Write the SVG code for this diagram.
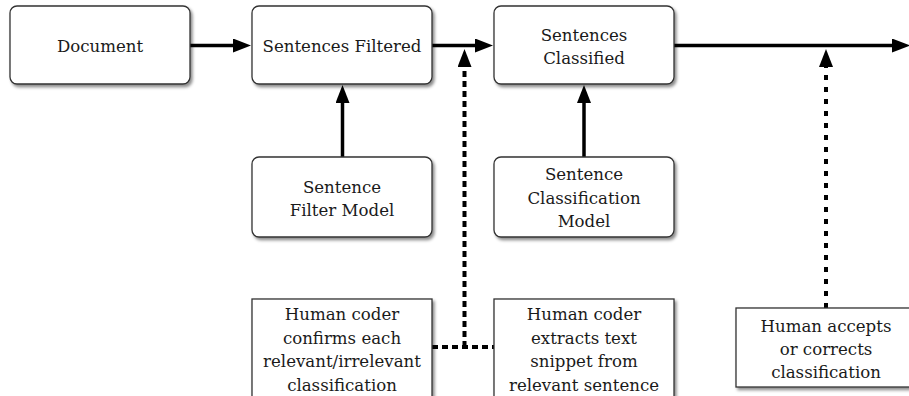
<svg xmlns="http://www.w3.org/2000/svg" width="909" height="396" viewBox="0 0 909 396">
<style>
.box{fill:#fff;stroke:#333;stroke-width:1.3;filter:url(#sh)}
.t{font-family:'DejaVu Serif','Liberation Serif',serif;font-size:16.6px;fill:#1a1a1a;text-anchor:middle}
.c{fill:none;stroke:#000;stroke-width:3.5}
.d1{stroke-width:4;stroke-dasharray:6 4}
.d2{stroke-width:4;stroke-dasharray:5 7}
</style>
<defs>
<filter id="sh" x="-10%" y="-10%" width="130%" height="130%">
<feDropShadow dx="2" dy="2.5" stdDeviation="1.5" flood-color="#000" flood-opacity="0.45"/>
</filter>
<marker id="ah" markerUnits="userSpaceOnUse" markerWidth="20" markerHeight="16" refX="1" refY="7" orient="auto">
<path d="M0,0 L18,7 L0,14 z" fill="#000"/>
</marker>
</defs>

<g id="connectors">
<path class="c" d="M190,45.5 H234" marker-end="url(#ah)"/>
<path class="c" d="M432,45.5 H476" marker-end="url(#ah)"/>
<path class="c" d="M674,45.5 H893" marker-end="url(#ah)"/>
<path class="c" d="M342.5,157 V102" marker-end="url(#ah)"/>
<path class="c" d="M584,157 V102" marker-end="url(#ah)"/>
<path class="c d1" d="M432,347 H494"/>
<path class="c d1" d="M464.5,347 V66" marker-end="url(#ah)"/>
<path class="c d2" d="M826,308 V66" marker-end="url(#ah)"/>
</g>

<g id="document">
<rect class="box" x="10" y="6" width="180" height="78" rx="7"/>
<text class="t" x="100" y="52">Document</text>
</g>
<g id="sentences-filtered">
<rect class="box" x="252" y="6" width="180" height="78" rx="7"/>
<text class="t" x="342" y="52">Sentences Filtered</text>
</g>
<g id="sentences-classified">
<rect class="box" x="494" y="6" width="180" height="78" rx="7"/>
<text class="t" x="584" y="40.5">Sentences</text>
<text class="t" x="584" y="64">Classified</text>
</g>
<g id="filter-model">
<rect class="box" x="252" y="157" width="180" height="80" rx="7"/>
<text class="t" x="342" y="192.5">Sentence</text>
<text class="t" x="342" y="216">Filter Model</text>
</g>
<g id="classification-model">
<rect class="box" x="494" y="157" width="180" height="80" rx="7"/>
<text class="t" x="584" y="180">Sentence</text>
<text class="t" x="584" y="203.5">Classification</text>
<text class="t" x="584" y="227">Model</text>
</g>
<g id="human-confirms">
<rect class="box" x="252" y="299" width="180" height="102"/>
<text class="t" x="342" y="320">Human coder</text>
<text class="t" x="342" y="343.5">confirms each</text>
<text class="t" x="342" y="367">relevant/irrelevant</text>
<text class="t" x="342" y="390.5">classification</text>
</g>
<g id="human-extracts">
<rect class="box" x="494" y="299" width="180" height="102"/>
<text class="t" x="584" y="320">Human coder</text>
<text class="t" x="584" y="343.5">extracts text</text>
<text class="t" x="584" y="367">snippet from</text>
<text class="t" x="584" y="390.5">relevant sentence</text>
</g>
<g id="human-accepts">
<rect class="box" x="736" y="308" width="180" height="79"/>
<text class="t" x="826" y="331.5">Human accepts</text>
<text class="t" x="826" y="355">or corrects</text>
<text class="t" x="826" y="378">classification</text>
</g>
</svg>
